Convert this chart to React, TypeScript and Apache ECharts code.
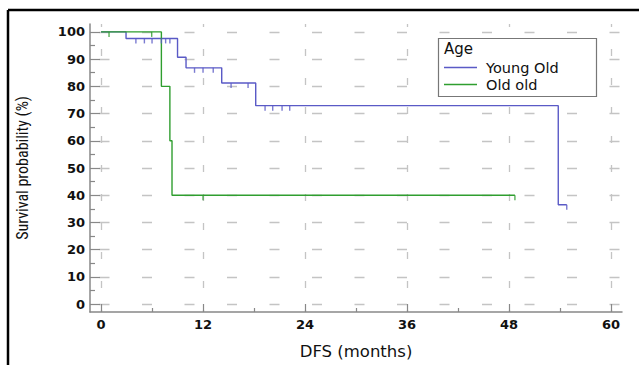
import React, { useEffect, useRef } from "react";
import * as echarts from "echarts";

// Kaplan–Meier steps (time in months, survival %)
const youngTimes = [0, 2.94, 9.0, 10.0, 14.2, 18.2, 53.8, 54.8];
const youngSurv = [100, 97.6, 90.7, 86.8, 81.2, 72.9, 36.5, 36.5];
const youngCensorTimes = [4.1, 5.1, 6.0, 7.1, 7.6, 8.1, 11.0, 12.0, 13.2, 15.3, 17.3, 19.3, 20.2, 21.3, 22.2, 54.8];
const youngCensorSurv = [97.6, 97.6, 97.6, 97.6, 97.6, 97.6, 86.8, 86.8, 86.8, 81.2, 81.2, 72.9, 72.9, 72.9, 72.9, 36.5];

const oldTimes = [0, 7.1, 8.1, 8.35, 48.7];
const oldSurv = [100, 80, 60, 40, 40];
const oldCensorTimes = [0.94, 5.96, 12.0, 48.7];
const oldCensorSurv = [100, 100, 40, 40];

const xTicks = [0, 12, 24, 36, 48, 60];
const xMinorTicks = [6, 18, 30, 42, 54];
const yTicks = [0, 10, 20, 30, 40, 50, 60, 70, 80, 90, 100];
const yMinorTicks = [5, 15, 25, 35, 45, 55, 65, 75, 85, 95];

const seriesNames = ["Young Old", "Old old"];
const BLUE = "#5a5ac6";
const GREEN = "#2f9e2f";
const AXIS = "#888888";
const GRID = "#c4c4c4";

const zip = (a: number[], b: number[]) => a.map((v, i) => [v, b[i]]);

export default function App() {
  const ref = useRef<HTMLDivElement>(null);
  useEffect(() => {
    if (!ref.current) return;
    const chart = echarts.init(ref.current, undefined, { renderer: "svg" });
    const labelFont = {
      fontFamily: "DejaVu Sans",
      fontWeight: "bold" as const,
      fontSize: 13,
      color: "#111",
    };
    chart.setOption({
      animation: false,
      backgroundColor: "#fff",
      grid: { left: 90, right: 17, top: 24, bottom: 48, containLabel: false },
      xAxis: [
        {
          type: "value",
          min: -1.3,
          max: 61.3,
          name: "DFS (months)",
          nameLocation: "middle",
          nameGap: 31,
          nameTextStyle: { fontFamily: "DejaVu Sans", fontSize: 16.5, color: "#111" },
          axisLine: { show: true, onZero: false, lineStyle: { color: AXIS, width: 1.5 } },
          axisTick: { show: true, inside: true, length: 8, customValues: xTicks, lineStyle: { color: AXIS, width: 1.2 } },
          axisLabel: { show: true, customValues: xTicks, margin: 6, ...labelFont },
          splitLine: { show: true, lineStyle: { color: GRID, width: 1.3, type: [7, 22], dashOffset: 4 } },
        },
        {
          type: "value",
          min: -1.3,
          max: 61.3,
          position: "bottom",
          axisLine: { show: false, onZero: false },
          axisTick: { show: true, inside: true, length: 4, customValues: xMinorTicks, lineStyle: { color: AXIS, width: 1.2 } },
          axisLabel: { show: false },
          splitLine: { show: false },
        },
      ],
      yAxis: [
        {
          type: "value",
          min: -2.9,
          max: 102.9,
          name: "Survival probability (%)",
          nameLocation: "middle",
          nameGap: 60,
          nameTextStyle: {
            fontFamily: "'Liberation Sans Narrow', 'Roboto Condensed', Roboto",
            fontSize: 16,
            color: "#111",
          },
          axisLine: { show: true, onZero: false, lineStyle: { color: AXIS, width: 1.5 } },
          axisTick: { show: true, inside: true, length: 10, customValues: yTicks, lineStyle: { color: AXIS, width: 1.2 } },
          axisLabel: { show: true, customValues: yTicks, margin: 5, ...labelFont },
          splitLine: { show: true, lineStyle: { color: GRID, width: 1.3, type: [10, 32.5], dashOffset: 32.5 } },
        },
        {
          type: "value",
          min: -2.9,
          max: 102.9,
          position: "left",
          axisLine: { show: false, onZero: false },
          axisTick: { show: true, inside: true, length: 5, customValues: yMinorTicks, lineStyle: { color: AXIS, width: 1.2 } },
          axisLabel: { show: false },
          splitLine: { show: false },
        },
      ],
      legend: {
        data: seriesNames,
        orient: "vertical",
        left: 444,
        top: 60,
        padding: 0,
        itemGap: 2,
        itemWidth: 33,
        itemHeight: 1.5,
        icon: "rect",
        z: 5,
        textStyle: {
          fontFamily: "DejaVu Sans",
          fontSize: 14.5,
          color: "#111",
          lineHeight: 14,
          padding: [0, 0, 0, 4],
        },
      },
      graphic: [
        {
          type: "line",
          shape: { x1: 8, y1: 10, x2: 639, y2: 10 },
          style: { stroke: "#000", lineWidth: 2.5 },
          z: 10,
        },
        {
          type: "line",
          shape: { x1: 8, y1: 10, x2: 8, y2: 365 },
          style: { stroke: "#000", lineWidth: 2.5 },
          z: 10,
        },
        {
          type: "rect",
          shape: { x: 438.5, y: 38.5, width: 158, height: 58 },
          style: { fill: "#fff", stroke: "#777", lineWidth: 1.2 },
          z: 3,
        },
        {
          type: "text",
          x: 444,
          y: 49,
          style: {
            text: "Age",
            fontFamily: "DejaVu Sans",
            fontSize: 15,
            fill: "#111",
            verticalAlign: "middle",
          },
          z: 5,
        },
      ],
      series: [
        {
          name: seriesNames[0],
          type: "line",
          step: "end",
          showSymbol: false,
          symbol: "none",
          color: BLUE,
          lineStyle: { color: BLUE, width: 1.4 },
          data: zip(youngTimes, youngSurv),
          z: 2,
        },
        {
          name: seriesNames[1],
          type: "line",
          step: "end",
          showSymbol: false,
          symbol: "none",
          color: GREEN,
          lineStyle: { color: GREEN, width: 1.4 },
          data: zip(oldTimes, oldSurv),
          z: 2,
        },
        {
          name: seriesNames[0] + " censored",
          type: "scatter",
          symbol: "rect",
          symbolSize: [1.4, 5],
          symbolOffset: [0, 2.5],
          itemStyle: { color: BLUE },
          data: zip(youngCensorTimes, youngCensorSurv),
          z: 2,
        },
        {
          name: seriesNames[1] + " censored",
          type: "scatter",
          symbol: "rect",
          symbolSize: [1.4, 5],
          symbolOffset: [0, 2.5],
          itemStyle: { color: GREEN },
          data: zip(oldCensorTimes, oldCensorSurv),
          z: 2,
        },
      ],
    });
    return () => chart.dispose();
  }, []);
  return (
    <div
      ref={ref}
      style={{ position: "absolute", left: 0, top: 0, width: 639, height: 365 }}
    />
  );
}
